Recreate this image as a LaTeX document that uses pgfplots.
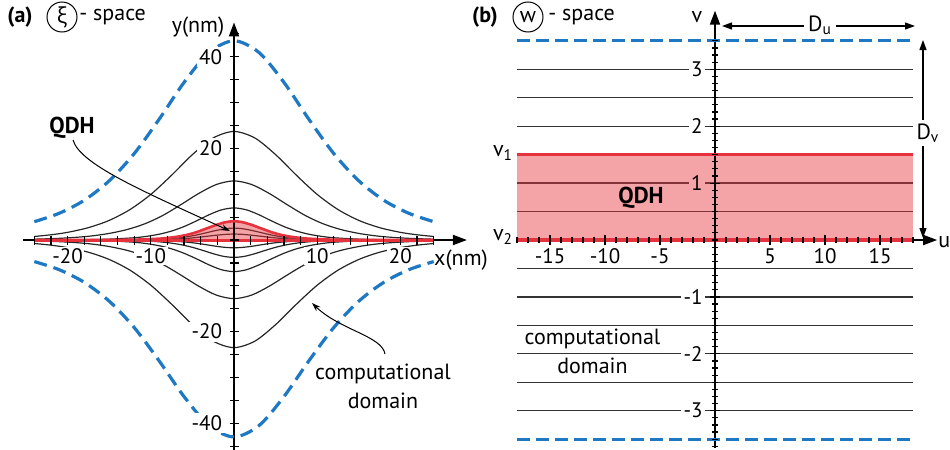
\documentclass[border=0pt]{standalone}
\usepackage{pgfplots}
\pgfplotsset{compat=1.18}
\usepackage{fontspec}
\setmainfont{PT Sans}
\newfontfamily\grk{Open Sans}
\usetikzlibrary{arrows.meta}
\definecolor{myblue}{RGB}{30,120,195}
\definecolor{myred}{RGB}{230,50,60}
\definecolor{pinkbl}{RGB}{244,163,167}
\pgfplotsset{
 layers/mine/.define layer set={axis background,axis grid,axis lines,pre main,main,axis ticks,axis tick labels,axis descriptions,axis foreground}{
  grid style={/pgfplots/on layer=axis grid},
  tick style={/pgfplots/on layer=axis ticks},
  axis line style={/pgfplots/on layer=axis lines},
  label style={/pgfplots/on layer=axis descriptions},
  ticklabel style={/pgfplots/on layer=axis tick labels},
 },
 myax/.style={set layers=mine, axis lines=middle, clip=false, anchor=origin,
   axis line style={line width=0.9pt, -{Triangle[length=7pt,width=5pt]}},
   tick align=center, tick style={black, line width=0.6pt},
   ticklabel style={font=\fontsize{10.5}{12}\selectfont, fill=white, inner sep=1.2pt},
   /pgf/number format/assume math mode=true,
   xticklabel style={yshift=-0.8pt, inner sep=0.8pt},
   yticklabel style={xshift=-2.3pt},
 },
 bk/.style={black!85, line width=0.6pt, smooth, on layer=axis background},
 bkr/.style={black!80, line width=0.65pt, on layer=axis background},
 bd/.style={myblue, line width=1.6pt, dash pattern=on 6.5pt off 3.5pt, smooth},
}
\begin{document}
\begin{tikzpicture}
\fontsize{11}{13}\selectfont
% ---------------- (a) xi-space ----------------
\begin{axis}[myax, at={(117pt,-120pt)}, x=4.16pt, y=2.29pt,
  xmin=-25.4, xmax=28, ymin=-46, ymax=47.5,
  xtick={-20,-10,10,20}, minor xtick={-24,-22,...,24},
  ytick={-40,-20,20,40}, minor ytick={-45,-40,...,45},
  major tick length=4.5pt, minor tick length=4.5pt]
% black curves (upper)
\addplot[bk] coordinates {(-24,0.77)(-22,1.14)(-20,1.67)(-17.5,2.70)(-15,4.28)(-12.5,6.65)(-10,9.95)(-7.5,14.14)(-5,18.64)(-2.5,22.28)(0,23.7)(2.5,22.28)(5,18.64)(7.5,14.14)(10,9.95)(12.5,6.65)(15,4.28)(17.5,2.70)(20,1.67)(22,1.14)(24,0.77)};
\addplot[bk] coordinates {(-24,0.18)(-21.25,0.34)(-19,0.58)(-17,0.91)(-14.9,1.47)(-12.75,2.33)(-10.6,3.62)(-8.5,5.42)(-6.4,7.70)(-4.25,10.15)(-2.1,12.13)(0,12.9)(2.1,12.13)(4.25,10.15)(6.4,7.70)(8.5,5.42)(10.6,3.62)(12.75,2.33)(14.9,1.47)(17,0.91)(19,0.58)(21.25,0.34)(24,0.18)};
\addplot[bk] coordinates {(-24,0.01)(-18,0.07)(-15,0.19)(-12,0.49)(-10.5,0.80)(-9,1.26)(-7.5,1.96)(-6,2.94)(-4.5,4.18)(-3,5.51)(-1.5,6.58)(0,7)(1.5,6.58)(3,5.51)(4.5,4.18)(6,2.94)(7.5,1.96)(9,1.26)(10.5,0.80)(12,0.49)(15,0.19)(18,0.07)(24,0.01)};
\addplot[bk] coordinates {(-24,0)(-18,0)(-13.5,0.03)(-11.25,0.07)(-9,0.18)(-7.9,0.30)(-6.75,0.47)(-5.6,0.73)(-4.5,1.09)(-3.4,1.55)(-2.25,2.04)(-1.1,2.44)(0,2.6)(1.1,2.44)(2.25,2.04)(3.4,1.55)(4.5,1.09)(5.6,0.73)(6.75,0.47)(7.9,0.30)(9,0.18)(11.25,0.07)(13.5,0.03)(18,0)(24,0)};
\addplot[bk] coordinates {(-24,0)(-18,0)(-13.5,0.01)(-11.25,0.03)(-9,0.09)(-7.9,0.15)(-6.75,0.23)(-5.6,0.36)(-4.5,0.55)(-3.4,0.78)(-2.25,1.02)(-1.1,1.22)(0,1.3)(1.1,1.22)(2.25,1.02)(3.4,0.78)(4.5,0.55)(5.6,0.36)(6.75,0.23)(7.9,0.15)(9,0.09)(11.25,0.03)(13.5,0.01)(18,0)(24,0)};
% black curves (lower)
\addplot[bk] coordinates {(-24,0)(-18,0)(-13.5,-0.02)(-11.25,-0.05)(-9,-0.12)(-7.9,-0.19)(-6.75,-0.31)(-5.6,-0.48)(-4.5,-0.71)(-3.4,-1.01)(-2.25,-1.34)(-1.1,-1.60)(0,-1.7)(1.1,-1.60)(2.25,-1.34)(3.4,-1.01)(4.5,-0.71)(5.6,-0.48)(6.75,-0.31)(7.9,-0.19)(9,-0.12)(11.25,-0.05)(13.5,-0.02)(18,0)(24,0)};
\addplot[bk] coordinates {(-24,0)(-20,-0.005)(-15,-0.04)(-12.5,-0.10)(-10,-0.27)(-8.75,-0.43)(-7.5,-0.69)(-6.25,-1.07)(-5,-1.60)(-3.75,-2.27)(-2.5,-2.99)(-1.25,-3.57)(0,-3.8)(1.25,-3.57)(2.5,-2.99)(3.75,-2.27)(5,-1.60)(6.25,-1.07)(7.5,-0.69)(8.75,-0.43)(10,-0.27)(12.5,-0.10)(15,-0.04)(20,-0.005)(24,0)};
\addplot[bk] coordinates {(-24,-0.01)(-18,-0.07)(-15,-0.18)(-12,-0.49)(-10.5,-0.79)(-9,-1.25)(-7.5,-1.93)(-6,-2.90)(-4.5,-4.12)(-3,-5.43)(-1.5,-6.49)(0,-6.9)(1.5,-6.49)(3,-5.43)(4.5,-4.12)(6,-2.90)(7.5,-1.93)(9,-1.25)(10.5,-0.79)(12,-0.49)(15,-0.18)(18,-0.07)(24,-0.01)};
\addplot[bk] coordinates {(-24,-0.18)(-21.25,-0.34)(-19,-0.57)(-17,-0.90)(-14.9,-1.46)(-12.75,-2.31)(-10.6,-3.59)(-8.5,-5.38)(-6.4,-7.64)(-4.25,-10.07)(-2.1,-12.04)(0,-12.8)(2.1,-12.04)(4.25,-10.07)(6.4,-7.64)(8.5,-5.38)(10.6,-3.59)(12.75,-2.31)(14.9,-1.46)(17,-0.90)(19,-0.57)(21.25,-0.34)(24,-0.18)};
\addplot[bk] coordinates {(-24,-0.76)(-22,-1.13)(-20,-1.66)(-17.5,-2.67)(-15,-4.25)(-12.5,-6.59)(-10,-9.87)(-7.5,-14.02)(-5,-18.48)(-2.5,-22.09)(0,-23.5)(2.5,-22.09)(5,-18.48)(7.5,-14.02)(10,-9.87)(12.5,-6.59)(15,-4.25)(17.5,-2.67)(20,-1.66)(22,-1.13)(24,-0.76)};
% QDH fill
\addplot[fill=myred, fill opacity=0.45, draw=none, smooth, on layer=axis background] coordinates {(-24,0)(-18,0.005)(-13.5,0.04)(-11.25,0.11)(-9,0.29)(-7.9,0.47)(-6.75,0.74)(-5.6,1.15)(-4.5,1.72)(-3.4,2.45)(-2.25,3.22)(-1.1,3.85)(0,4.1)(1.1,3.85)(2.25,3.22)(3.4,2.45)(4.5,1.72)(5.6,1.15)(6.75,0.74)(7.9,0.47)(9,0.29)(11.25,0.11)(13.5,0.04)(18,0.005)(24,0)} -- cycle;
% red boundaries
\addplot[myred, line width=1.3pt, smooth] coordinates {(-24,0)(-18,0.005)(-13.5,0.04)(-11.25,0.11)(-9,0.29)(-7.9,0.47)(-6.75,0.74)(-5.6,1.15)(-4.5,1.72)(-3.4,2.45)(-2.25,3.22)(-1.1,3.85)(0,4.1)(1.1,3.85)(2.25,3.22)(3.4,2.45)(4.5,1.72)(5.6,1.15)(6.75,0.74)(7.9,0.47)(9,0.29)(11.25,0.11)(13.5,0.04)(18,0.005)(24,0)};
\addplot[myred, line width=1.5pt] coordinates {(-24,0)(24,0)};
% blue dashed domain boundary
\addplot[bd] coordinates {(-24,4.00)(-21,5.84)(-18,8.68)(-15,12.92)(-12,18.85)(-9,26.36)(-6,34.42)(-3,40.95)(0,43.5)(3,40.95)(6,34.42)(9,26.36)(12,18.85)(15,12.92)(18,8.68)(21,5.84)(24,4.00)};
\addplot[bd] coordinates {(-24,-4.71)(-21,-6.49)(-18,-9.25)(-15,-13.35)(-12,-19.10)(-9,-26.38)(-6,-34.20)(-3,-40.53)(0,-43)(3,-40.53)(6,-34.20)(9,-26.38)(12,-19.10)(15,-13.35)(18,-9.25)(21,-6.49)(24,-4.71)};
\end{axis}
% ---------------- (b) w-space ----------------
\begin{axis}[myax, at={(357.5pt,-120pt)}, x=5.5pt, y=28.45pt,
  xmin=-18.1, xmax=20.2, ymin=-3.65, ymax=4.03,
  xtick={-15,-10,-5,5,10,15}, minor xtick={-18,-17,...,18},
  ytick={-3,-2,-1,2,3}, extra y ticks={1},
  extra y tick style={yticklabel style={fill=pinkbl}},
  minor ytick={-3.625,-3.5,...,3.5},
  major tick length=5pt, minor tick length=3pt]
\addplot[bkr] coordinates {(-18,3)(18,3)};
\addplot[bkr] coordinates {(-18,2.5)(18,2.5)};
\addplot[bkr] coordinates {(-18,2)(18,2)};
\addplot[bkr] coordinates {(-18,1)(18,1)};
\addplot[bkr] coordinates {(-18,0.5)(18,0.5)};
\addplot[bkr] coordinates {(-18,-0.5)(18,-0.5)};
\addplot[bkr] coordinates {(-18,-1)(18,-1)};
\addplot[bkr] coordinates {(-18,-1.5)(18,-1.5)};
\addplot[bkr] coordinates {(-18,-2)(18,-2)};
\addplot[bkr] coordinates {(-18,-2.5)(18,-2.5)};
\addplot[bkr] coordinates {(-18,-3)(18,-3)};
\addplot[fill=myred, fill opacity=0.45, draw=none, on layer=axis background] coordinates {(-18,0)(-18,1.5)(18,1.5)(18,0)} -- cycle;
\addplot[myred, line width=1.6pt] coordinates {(-18,1.5)(18,1.5)};
\addplot[myred, line width=1.6pt] coordinates {(-18,0)(18,0)};
\addplot[myblue, line width=1.6pt, dash pattern=on 6.5pt off 3pt] coordinates {(-18,3.5)(18,3.5)};
\addplot[myblue, line width=1.6pt, dash pattern=on 6.5pt off 3pt] coordinates {(-18,-3.5)(18,-3.5)};
\end{axis}
% ---------------- annotations ----------------
\node[font=\fontsize{11}{13}\selectfont\bfseries] at (10pt,-8.5pt) {(a)};
\node[draw, circle, line width=0.5pt, minimum size=15pt, inner sep=0pt] at (31pt,-8.5pt) {\grk ξ};
\node[anchor=west, inner sep=0pt] at (39.5pt,-8.5pt) {- space};
\node at (99pt,-13.5pt) {y(nm)};
\node at (230.5pt,-130pt) {x(nm)};
\node[font=\fontsize{11.5}{13}\selectfont\bfseries] at (36pt,-64pt) {QDH};
\draw[line width=0.5pt, -{Stealth[length=4.5pt,width=3pt]}] (36.5pt,-70pt) .. controls (40pt,-82pt) and (70pt,-95pt) .. (115pt,-115.5pt);
\node[align=center, font=\fontsize{11}{14.5}\selectfont] at (191.5pt,-193.25pt) {computational\\domain};
\draw[line width=0.5pt, -{Stealth[length=4.5pt,width=3pt]}] (192.5pt,-177pt) .. controls (191pt,-168pt) and (170pt,-165pt) .. (156pt,-151.5pt);
\node[font=\fontsize{11}{13}\selectfont\bfseries] at (242.5pt,-8.5pt) {(b)};
\node[draw, circle, line width=0.5pt, minimum size=15pt, inner sep=0pt] at (264pt,-8.5pt) {w};
\node[anchor=west, inner sep=0pt] at (274pt,-8.5pt) {- space};
\node at (348.5pt,-8.5pt) {v};
\draw[line width=0.6pt, {Triangle[length=5pt,width=3.5pt]}-{Triangle[length=5pt,width=3.5pt]}] (361pt,-13pt) -- (457.5pt,-13pt);
\node[fill=white, inner sep=2pt] at (410pt,-12.5pt) {D\textsubscript{u}};
\draw[line width=0.6pt, {Triangle[length=5pt,width=3.5pt]}-{Triangle[length=5pt,width=3.5pt]}] (461.5pt,-20pt) -- (461.5pt,-119pt);
\node[fill=white, inner sep=1.5pt] at (464pt,-66.5pt) {D\textsubscript{v}};
\node at (251.5pt,-76.5pt) {v\textsubscript{1}};
\node at (251.5pt,-118.5pt) {v\textsubscript{2}};
\node[font=\fontsize{11.5}{13}\selectfont\bfseries] at (320.5pt,-99pt) {QDH};
\node[align=center, font=\fontsize{11}{14.5}\selectfont] at (296.25pt,-175.75pt) {computational\\domain};
\node[anchor=west, inner sep=0pt] at (469pt,-121pt) {u};
\pgfresetboundingbox
\path[use as bounding box] (0,0) rectangle (475pt,-225pt);
\end{tikzpicture}
\end{document}
